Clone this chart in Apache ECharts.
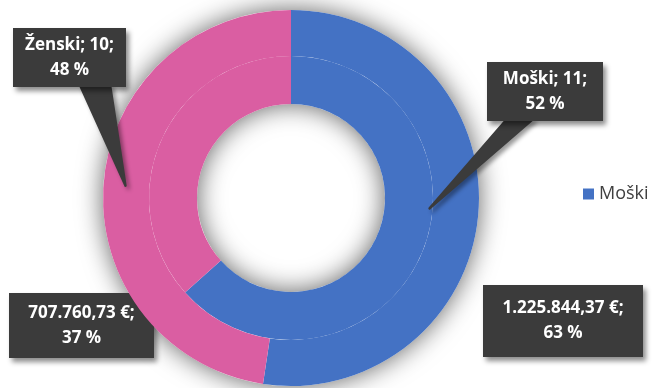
<!DOCTYPE html>
<html><head><meta charset="utf-8">
<script src="https://cdn.jsdelivr.net/npm/echarts@6/dist/echarts.min.js"></script>
<style>html,body{margin:0;padding:0;background:#fff}#c{width:652px;height:388px}</style>
</head><body><div id="c"></div>
<script>
// ---- data ----
const categories = ['Moški', 'Ženski'];
const countValues = [11, 10];
const countPercents = ['52 %', '48 %'];
const amountValues = [1225844.37, 707760.73];
const amountLabels = ['1.225.844,37 €', '707.760,73 €'];
const amountPercents = ['63 %', '37 %'];
const legendItems = ['Moški'];

// ---- styles / layout ----
const colors = ['#4472C4', '#DA5EA2'];
const CX = 291, CY = 198;
const R_HOLE = 94, R_MID = 142, R_OUT = 188;
const outerBoxes = [ // Moški, Ženski (count ring)
  {cx: 545, cy: 91.5, w: 116, pad: [5, 0, 4, 0], attach: [20, 46], tipR: 139},
  {cx: 69.5, cy: 57.5, w: 113, pad: [5, 0, 4, 0], attach: [67, 97], tipR: 166}
];
const innerBoxes = [
  {cx: 563, cy: 321, w: 160, pad: [11, 0, 11, 0]},
  {cx: 81.5, cy: 325.5, w: 145, pad: [8, 0, 7, 0]}
];
const boxStyle = {
  color: '#fff', fontFamily: 'Open Sans', fontWeight: 'bold', fontSize: 17, lineHeight: 25,
  backgroundColor: '#3b3b3b', align: 'center', verticalAlign: 'middle',
  shadowColor: 'rgba(0,0,0,0.45)', shadowBlur: 5, shadowOffsetX: 3, shadowOffsetY: 4
};

function midAngle(values, i) {
  const total = values.reduce((a, b) => a + b, 0);
  let start = 0;
  for (let k = 0; k < i; k++) start += values[k];
  return (start + values[i] / 2) / total * 2 * Math.PI;
}

const chart = echarts.init(document.getElementById('c'), null, {renderer: 'canvas'});
const total = countValues.reduce((a, b) => a + b, 0);

const countLabelSeries = { // carries the callouts of the count ring, drawn above all rings
  type: 'pie', silent: true, center: [CX, CY], radius: [R_MID, R_OUT], startAngle: 90, clockwise: true,
  avoidLabelOverlap: false, z: 5,
  itemStyle: {color: 'rgba(0,0,0,0)'},
  data: categories.map((c, i) => ({
    name: c + ' ', value: countValues[i],
    label: Object.assign({}, boxStyle, {width: outerBoxes[i].w, padding: outerBoxes[i].pad})
  })),
  label: Object.assign({show: true, position: 'outside',
    formatter: p => categories[p.dataIndex] + '; ' + countValues[p.dataIndex] + ';\n' + countPercents[p.dataIndex]}, boxStyle),
  labelLine: {show: true, length: 15, length2: 15,
    lineStyle: {color: '#3b3b3b', width: 2.5, join: 'round', cap: 'round',
      shadowColor: 'rgba(0,0,0,0.4)', shadowBlur: 4, shadowOffsetX: 3, shadowOffsetY: 3}},
  labelLayout: p => {
    const b = outerBoxes[p.dataIndex];
    const a = midAngle(countValues, p.dataIndex);
    const tip = [CX + b.tipR * Math.sin(a), CY - b.tipR * Math.cos(a)];
    const left = b.cx - b.w / 2;
    const boxH = 50 + b.pad[0] + b.pad[2];
    const ay = b.cy + boxH / 2 - 2;
    const pts = [tip];
    for (let x = left + b.attach[0]; x <= left + b.attach[1]; x += 2) {
      pts.push([x, ay]); pts.push(tip);
    }
    return {x: b.cx, y: b.cy, align: 'center', verticalAlign: 'middle', labelLinePoints: pts};
  }
};

chart.setOption({
  backgroundColor: '#fff',
  animation: false,
  color: colors,
  legend: {
    data: legendItems, left: 578, top: 180, icon: 'rect', itemWidth: 11, itemHeight: 11,
    itemStyle: {color: colors[0]},
    textStyle: {fontSize: 18, color: '#404040', fontFamily: 'Open Sans'}
  },
  series: [
    { // shadow under the rings
      type: 'pie', silent: true, center: [CX, CY], radius: [R_HOLE, R_OUT],
      label: {show: false}, labelLine: {show: false},
      itemStyle: {color: '#fff', shadowBlur: 26, shadowColor: 'rgba(0,0,0,0.62)'},
      data: [{value: total, name: ''}], z: 1
    },
    { // inner ring: amounts
      type: 'pie', center: [CX, CY], radius: [R_HOLE, R_MID], startAngle: 90, clockwise: true,
      avoidLabelOverlap: false, z: 2,
      data: categories.map((c, i) => ({
        name: c, value: amountValues[i],
        label: Object.assign({}, boxStyle, {width: innerBoxes[i].w, padding: innerBoxes[i].pad})
      })),
      label: Object.assign({show: true, position: 'outside',
        formatter: p => amountLabels[p.dataIndex] + ';\n' + amountPercents[p.dataIndex]}, boxStyle),
      labelLine: {show: false},
      labelLayout: p => ({x: innerBoxes[p.dataIndex].cx, y: innerBoxes[p.dataIndex].cy,
        align: 'center', verticalAlign: 'middle'})
    },
    { // outer ring: counts
      type: 'pie', center: [CX, CY], radius: [R_MID, R_OUT], startAngle: 90, clockwise: true,
      avoidLabelOverlap: false, z: 3,
      data: categories.map((c, i) => ({name: c, value: countValues[i]})),
      label: {show: false}, labelLine: {show: false}
    },
    countLabelSeries
  ]
});
</script></body></html>
